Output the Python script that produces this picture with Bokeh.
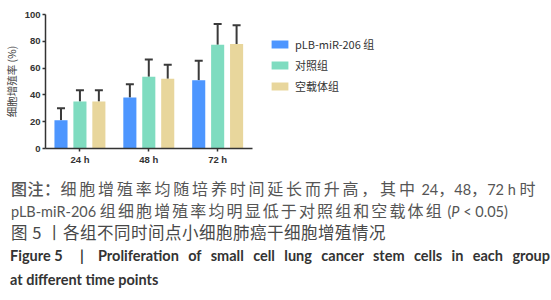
from bokeh.plotting import figure
from bokeh.models import (ColumnDataSource, Range1d, Legend, LegendItem, Whisker,
                          TeeHead, Div, FixedTicker)
from bokeh.layouts import column
from bokeh.embed import file_html
from bokeh.resources import INLINE

times = ["24 h", "48 h", "72 h"]
groups = ["pLB-miR-206 组", "对照组", "空载体组"]
vals_mir = [21, 38, 51]
err_mir = [9, 10, 14.5]
vals_ctrl = [35, 53.5, 77.5]
err_ctrl = [8.5, 13, 15.5]
vals_vec = [35, 52, 78]
err_vec = [8.5, 10.5, 14]
colors = ["#4d96ff", "#7fdcc0", "#e8d69c"]
y_ticks = [0, 20, 40, 60, 80, 100]

n = len(times)
centers = [i + 0.5 for i in range(n)]

# frame spans 44..544 px; categories occupy the first n units (69 px each)
p = figure(x_range=Range1d(0, 500 / 69), y_range=(0, 100),
           width=551, height=170, output_backend="svg", toolbar_location=None,
           min_border_left=44, min_border_right=7, min_border_top=14, min_border_bottom=22)
p.outline_line_color = None
p.xgrid.grid_line_color = None
p.ygrid.grid_line_color = None
p.background_fill_color = None
p.border_fill_color = None

offsets = [-0.275, 0.0, 0.275]
series = [(vals_mir, err_mir), (vals_ctrl, err_ctrl), (vals_vec, err_vec)]
renderers = []
for (v, e), off, c in zip(series, offsets, colors):
    src = ColumnDataSource(dict(x=[cx + off for cx in centers], top=v,
                                upper=[a + b for a, b in zip(v, e)]))
    w = Whisker(base="x", upper="upper", lower="top", source=src,
                line_color="#3a3a3a", line_width=2, lower_head=None,
                upper_head=TeeHead(size=8, line_color="#3a3a3a", line_width=2))
    p.add_layout(w)
    r = p.vbar(x="x", top="top", width=0.19, source=src, fill_color=c, line_color=None)
    renderers.append(r)

legend = Legend(items=[LegendItem(label=g, renderers=[r]) for g, r in zip(groups, renderers)],
                location=(224, 53), border_line_color=None, background_fill_alpha=0,
                padding=0, margin=0, spacing=3, glyph_width=21, glyph_height=10,
                label_height=18, label_standoff=5,
                label_text_font="Noto Sans CJK SC", label_text_font_size="11px",
                label_text_color="#333333")
p.add_layout(legend, "center")

for ax in (p.xaxis[0], p.yaxis[0]):
    ax.axis_line_color = "#333333"
    ax.axis_line_width = 1.5
    ax.major_tick_line_color = "#333333"
    ax.major_tick_line_width = 1.5
    ax.major_tick_out = 3
    ax.major_tick_in = 0
    ax.minor_tick_line_color = None
    ax.major_label_text_font = "Liberation Sans"
    ax.major_label_text_font_size = "9.5px"
    ax.major_label_text_font_style = "bold"
    ax.major_label_text_color = "#333333"
    ax.major_label_standoff = 2
p.xaxis.bounds = (0, n)
p.xaxis.ticker = FixedTicker(ticks=centers)
p.xaxis.major_label_overrides = {cx: t for cx, t in zip(centers, times)}
p.yaxis.ticker = FixedTicker(ticks=y_ticks)
p.yaxis.axis_label = "细胞增殖率 (%)"
p.yaxis.axis_label_text_font = "Noto Sans CJK SC"
p.yaxis.axis_label_text_font_size = "10.5px"
p.yaxis.axis_label_text_font_style = "normal"
p.yaxis.axis_label_text_color = "#444444"
p.yaxis.axis_label_standoff = 3

L = "font-family:'Lato',sans-serif;"
cap = Div(width=551, height=130, text=f"""
<div lang="zh" style="font-family:'Noto Sans CJK SC',sans-serif;font-size:16px;color:#555;margin:0;padding:2px 0 0 6px;">
<div style="height:22px;line-height:22px;white-space:nowrap;"><span style="font-weight:500;letter-spacing:0.5px;">图注：</span><span style="letter-spacing:2.8px;">细胞增殖率均随培养时间延长而升高，其中</span><span style="{L}font-size:14.5px;"> 24</span>，<span style="{L}font-size:14.5px;">48</span>，<span style="{L}font-size:14.5px;">72 h </span>时</div>
<div style="height:22px;line-height:22px;white-space:nowrap;"><span style="{L}font-size:14.5px;">pLB-miR-206 </span><span style="letter-spacing:2.1px;">组细胞增殖率均明显低于对照组和空载体组</span><span style="{L}font-size:14.5px;"> (<i>P</i> &lt; 0.05)</span></div>
<div style="height:23px;line-height:23px;white-space:nowrap;color:#484848;font-size:16.5px;letter-spacing:0.5px;">图 5 丨各组不同时间点小细胞肺癌干细胞增殖情况</div>
<div style="{L}font-weight:bold;font-size:14.5px;color:#333;height:24px;line-height:24px;white-space:nowrap;width:540px;text-align:justify;text-align-last:justify;margin-left:-1px;"><span style="display:inline-block;width:88px;position:relative;text-align:left;text-align-last:left;">Figure&nbsp;5<span style="position:absolute;left:70px;top:0;">|</span></span>Proliferation of small cell lung cancer stem cells in each group</div>
<div style="{L}font-weight:bold;font-size:14.5px;color:#333;height:24px;line-height:24px;white-space:nowrap;margin-left:-1px;">at different time points</div>
</div>
""")

layout = column(p, cap, spacing=0)
open("out.html", "w").write(file_html(layout, INLINE))
